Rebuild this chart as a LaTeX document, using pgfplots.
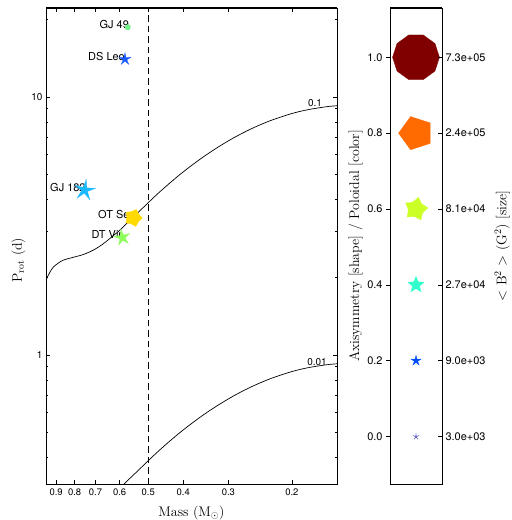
\documentclass[border=0pt]{standalone}
\usepackage{fontspec}
\usepackage{pgfplots}
\pgfplotsset{compat=1.18}
\newfontfamily\hv{TeX Gyre Heros}

\definecolor{c00}{rgb}{0.35,0.35,0.78}
\definecolor{c02}{rgb}{0.0,0.30,1.0}
\definecolor{c04}{rgb}{0.2,1.0,0.8}
\definecolor{c06}{rgb}{0.8,1.0,0.15}
\definecolor{c08}{rgb}{1.0,0.42,0.0}
\definecolor{c10}{rgb}{0.5,0.0,0.0}
\definecolor{gjfn}{rgb}{0.45,0.95,0.55}
\definecolor{dsleo}{rgb}{0.1,0.35,1.0}
\definecolor{gjoe}{rgb}{0.1,0.72,1.0}
\definecolor{otser}{rgb}{1.0,0.85,0.0}
\definecolor{dtvir}{rgb}{0.55,1.0,0.35}

% 5-branch star, inner/outer radius ratio #2, turned by #3 degrees
\newcommand\spt[3]{\pgfpathlineto{\pgfpointpolar{90+#3+36*#1}{#2*\pgfplotmarksize}}}
\newcommand\defstarmark[3]{%
  \pgfdeclareplotmark{#1}{%
    \pgfpathmoveto{\pgfpointpolar{90+#3}{\pgfplotmarksize}}%
    \spt{1}{#2}{#3}\spt{2}{1}{#3}\spt{3}{#2}{#3}\spt{4}{1}{#3}\spt{5}{#2}{#3}%
    \spt{6}{1}{#3}\spt{7}{#2}{#3}\spt{8}{1}{#3}\spt{9}{#2}{#3}%
    \pgfpathclose
    \pgfusepathqfillstroke}}
\defstarmark{axa}{0.1}{0}
\defstarmark{axb}{0.33}{0}
\defstarmark{axc}{0.45}{0}
\defstarmark{axd}{0.64}{-12}
\defstarmark{axe}{0.81}{90}
\defstarmark{axf}{1}{18}
\defstarmark{sgjoe}{0.28}{-8}
\defstarmark{sot}{0.72}{-20}
\defstarmark{sdt}{0.33}{10}
\defstarmark{sds}{0.3}{0}
\defstarmark{sgj}{0.85}{0}

\begin{document}
\begin{tikzpicture}
\useasboundingbox (0,0) rectangle (512bp,520bp);
\pgfplotsset{every axis/.append style={
  axis line style={line width=0.8pt}, tick style={black,line width=0.6pt},
  label style={font=\fontsize{14}{16}\selectfont}}}
\begin{axis}[at={(46bp,36bp)},anchor=south west,width=291bp,height=476bp,scale only axis,
  xmode=log,ymode=log,x dir=reverse,xmin=0.15,xmax=0.96,ymin=0.316,ymax=22.1,
  xtick={0.9,0.8,0.7,0.6,0.5,0.4,0.3,0.2},xticklabels={0.9,0.8,0.7,0.6,0.5,0.4,0.3,0.2},
  minor xtick={},
  ytick={1,10},yticklabels={1,10},
  minor ytick={0.4,0.5,0.6,0.7,0.8,0.9,2,3,4,5,6,7,8,9,20},
  tick align=inside,major tick length=4bp,minor tick length=2.5bp,
  xticklabel style={font=\hv\fontsize{9.5}{10}\selectfont,yshift=-1.5bp},
  yticklabel style={font=\hv\fontsize{10}{11}\selectfont},
  xlabel={Mass (M$_\odot$)},ylabel={P$_{\rm rot}$ (d)},
  xlabel style={at={(axis description cs:0.5,-0.06)},anchor=center},
  ylabel style={at={(axis description cs:-0.095,0.47)},anchor=center}]
\draw[line width=1.4pt] (rel axis cs:0,1) -- (rel axis cs:1,1);
\addplot[black,line width=0.7pt,smooth] coordinates {
(0.96,1.95) (0.955,1.98) (0.945,2.04) (0.935,2.10) (0.916,2.19) (0.887,2.27) (0.859,2.33)
(0.806,2.39) (0.756,2.45) (0.709,2.55) (0.67,2.68) (0.638,2.83) (0.60,3.04)
(0.573,3.24) (0.535,3.55) (0.50,3.891) (0.47,4.221) (0.44,4.581) (0.41,4.980)
(0.38,5.411) (0.35,5.884) (0.32,6.392) (0.29,6.938) (0.26,7.505) (0.23,8.077)
(0.20,8.619) (0.18,8.927) (0.16,9.162) (0.15,9.237)};
\addplot[black,line width=0.7pt,smooth] coordinates {
(0.60,0.304) (0.573,0.324) (0.535,0.355) (0.50,0.3891) (0.47,0.4221) (0.44,0.4581) (0.41,0.4980)
(0.38,0.5411) (0.35,0.5884) (0.32,0.6392) (0.29,0.6938) (0.26,0.7505) (0.23,0.8077)
(0.20,0.8619) (0.18,0.8927) (0.16,0.9162) (0.15,0.9237)};
\addplot[black,line width=0.7pt,dash pattern=on 6.5bp off 4bp] coordinates {(0.5,0.316) (0.5,22.1)};
\node[font=\hv\fontsize{10}{12}\selectfont,anchor=base east,inner sep=0pt] at (axis cs:0.165,9.2) {0.1};
\node[font=\hv\fontsize{10}{12}\selectfont,anchor=base east,inner sep=0pt] at (axis cs:0.16,0.906) {0.01};
\begin{scope}[every node/.style={font=\hv\fontsize{11}{12}\selectfont,anchor=east,inner sep=0pt,yshift=3bp}]
\node at (axis cs:0.565,18.6) {GJ 49};
\node at (axis cs:0.58,14.0) {DS Leo};
\node at (axis cs:0.745,4.35) {GJ 182};
\node at (axis cs:0.55,3.40) {OT Ser};
\node at (axis cs:0.59,2.85) {DT Vir};
\end{scope}
\addplot[only marks,mark=sgj,mark size=3bp,color=gjfn,mark options={line width=0.2pt}] coordinates {(0.57,18.6)};
\addplot[only marks,mark=sds,mark size=6.5bp,color=dsleo,mark options={line width=0.2pt}] coordinates {(0.58,14.0)};
\addplot[only marks,mark=sgjoe,mark size=11bp,color=gjoe,mark options={line width=0.2pt}] coordinates {(0.75,4.35)};
\addplot[only marks,mark=sot,mark size=9bp,color=otser,mark options={line width=0.2pt}] coordinates {(0.55,3.40)};
\addplot[only marks,mark=sdt,mark size=8.5bp,color=dtvir,mark options={line width=0.2pt}] coordinates {(0.59,2.85)};
\end{axis}

\begin{axis}[at={(390bp,36bp)},anchor=south west,width=52bp,height=476bp,scale only axis,
  xmin=0,xmax=1,ymin=-0.125,ymax=1.13,clip=false,
  xtick=\empty,ytick={0,0.2,0.4,0.6,0.8,1.0},yticklabels={0.0,0.2,0.4,0.6,0.8,1.0},
  ytick pos=left,tick align=outside,major tick length=4bp,
  yticklabel style={font=\hv\fontsize{11}{12}\selectfont},
  ylabel={Axisymmetry [shape] / Poloidal [color]},
  ylabel style={at={(axis description cs:-0.663,0.5)},anchor=center}]
\draw[line width=1.4pt] (rel axis cs:0,1) -- (rel axis cs:1,1);
\addplot[only marks,mark=axa,mark size=3.5bp,color=c00,mark options={line width=0.25pt}] coordinates {(0.5,0.0)};
\addplot[only marks,mark=axb,mark size=5.5bp,color=c02,mark options={line width=0.2pt}] coordinates {(0.5,0.2)};
\addplot[only marks,mark=axc,mark size=8.5bp,color=c04,mark options={line width=0.2pt}] coordinates {(0.5,0.4)};
\addplot[only marks,mark=axd,mark size=12bp,color=c06,mark options={line width=0.2pt}] coordinates {(0.5,0.6)};
\addplot[only marks,mark=axe,mark size=17.5bp,color=c08,mark options={line width=0.2pt}] coordinates {(0.5,0.8)};
\addplot[only marks,mark=axf,mark size=23.5bp,color=c10,mark options={line width=0.2pt}] coordinates {(0.5,1.0)};
\end{axis}

\begin{axis}[at={(390bp,36bp)},anchor=south west,width=52bp,height=476bp,scale only axis,
  xmin=0,xmax=1,ymin=-0.125,ymax=1.13,
  xtick=\empty,ytick={0,0.2,0.4,0.6,0.8,1.0},
  yticklabels={3.0e+03,9.0e+03,2.7e+04,8.1e+04,2.4e+05,7.3e+05},
  ytick pos=right,yticklabel pos=right,tick align=inside,major tick length=4bp,
  yticklabel style={font=\hv\fontsize{11}{12}\selectfont},
  ylabel={$<$ B$^2$ $>$ (G$^2$) [size]},
  ylabel style={at={(axis description cs:2.16,0.5)},anchor=center}]
\end{axis}
\end{tikzpicture}
\end{document}
